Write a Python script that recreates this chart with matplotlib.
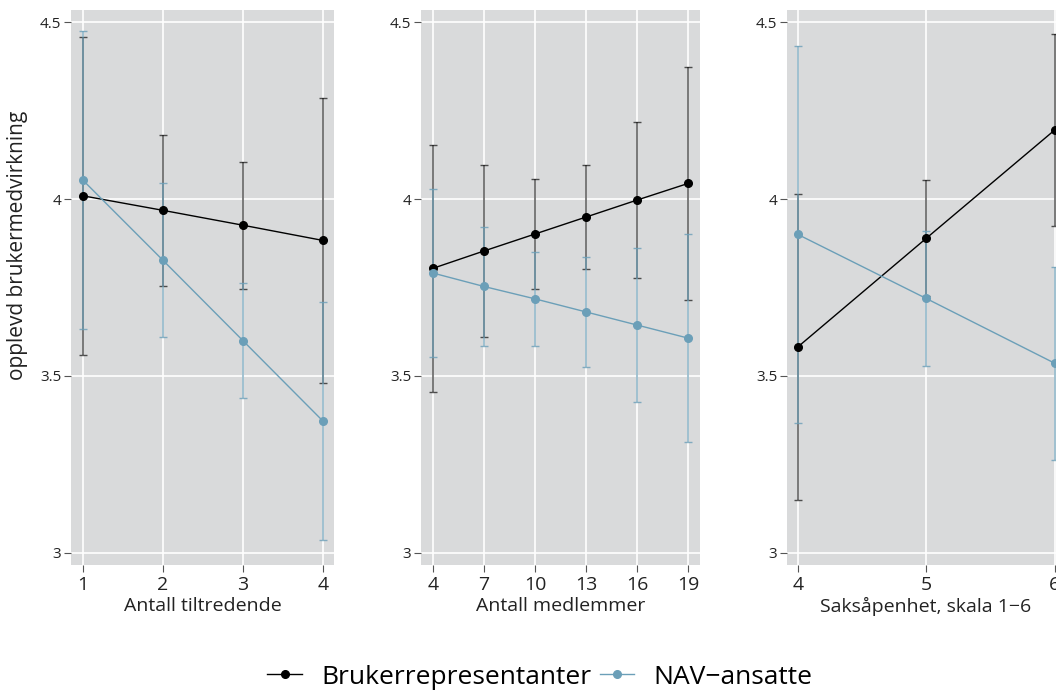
import numpy as np
import matplotlib
matplotlib.use("Agg")
import matplotlib.pyplot as plt
from matplotlib.lines import Line2D

plt.rcParams['font.family'] = ['Open Sans', 'DejaVu Sans']

# data
x_tilt = [1, 2, 3, 4]
bruker_tilt = [4.009, 3.968, 3.926, 3.883]
bruker_tilt_ci = [0.450, 0.213, 0.179, 0.402]
nav_tilt = [4.053, 3.827, 3.600, 3.373]
nav_tilt_ci = [0.421, 0.218, 0.163, 0.337]

x_medl = [4, 7, 10, 13, 16, 19]
bruker_medl = [3.804, 3.853, 3.901, 3.949, 3.997, 4.044]
bruker_medl_ci = [0.350, 0.242, 0.156, 0.147, 0.221, 0.328]
nav_medl = [3.791, 3.753, 3.718, 3.681, 3.644, 3.607]
nav_medl_ci = [0.236, 0.168, 0.132, 0.155, 0.217, 0.294]

x_saks = [4, 5, 6]
bruker_saks = [3.582, 3.889, 4.195]
bruker_saks_ci = [0.432, 0.164, 0.270]
nav_saks = [3.900, 3.719, 3.536]
nav_saks_ci = [0.533, 0.190, 0.272]

xlabels = ["Antall tiltredende", "Antall medlemmer", "Saksåpenhet, skala 1\u22126"]
ylabel = "opplevd brukermedvirkning"
series_names = ["Brukerrepresentanter", "NAV\u2212ansatte"]

BLACK = "#000000"
BLUE = "#6b9fb8"
BG = "#d9dadb"

W, H = 1056, 690
fig = plt.figure(figsize=(W / 100, H / 100), dpi=100)

def box(l, r, t=10, b=565):
    return [l / W, 1 - b / H, (r - l) / W, (b - t) / H]

panels = [
    (box(71, 334), x_tilt, bruker_tilt, bruker_tilt_ci, nav_tilt, nav_tilt_ci, (0.85, 4.14)),
    (box(421, 700), x_medl, bruker_medl, bruker_medl_ci, nav_medl, nav_medl_ci, (3.31, 19.70)),
    (box(787, 1065), x_saks, bruker_saks, bruker_saks_ci, nav_saks, nav_saks_ci, (3.916, 6.08)),
]

for i, (pos, x, b, bci, n, nci, xl) in enumerate(panels):
    ax = fig.add_axes(pos)
    ax.set_facecolor(BG)
    for s in ax.spines.values():
        s.set_visible(False)
    ax.grid(True, color="white", linewidth=1.2)
    ax.set_axisbelow(True)

    ax.errorbar(x, b, yerr=bci, fmt="none", ecolor=BLACK, elinewidth=1.1,
                capsize=3, capthick=1.0, alpha=0.65, zorder=2)
    ax.errorbar(x, n, yerr=nci, fmt="none", ecolor=BLUE, elinewidth=1.1,
                capsize=3, capthick=1.0, alpha=0.8, zorder=3)
    ax.plot(x, b, color=BLACK, lw=1.0, marker="o", ms=5.5, zorder=4)
    ax.plot(x, n, color=BLUE, lw=1.0, marker="o", ms=5.5, zorder=5)

    ax.set_xlim(*xl)
    ax.set_ylim(2.966, 4.534)
    ax.set_xticks(x)
    ax.set_yticks([3, 3.5, 4, 4.5])
    ax.set_yticklabels(["3", "3.5", "4", "4.5"])
    ax.tick_params(axis="y", labelsize=11, length=5, color="#555555",
                   labelcolor="#222222", pad=2)
    ax.tick_params(axis="x", labelsize=14, length=5, color="#555555",
                   labelcolor="#222222", pad=3)
    ax.set_xlabel(xlabels[i], fontsize=14, labelpad=2, color="#222222")

fig.text(18 / W, 1 - 245 / H, ylabel, rotation=90, ha="center", va="center",
         fontsize=15, color="#222222")

handles = [Line2D([], [], color=BLACK, marker="o", ms=5.5, lw=1.0),
           Line2D([], [], color=BLUE, marker="o", ms=5.5, lw=1.0)]
fig.legend(handles, series_names, loc="center", bbox_to_anchor=(540 / W, 1 - 677 / H),
           ncol=2, frameon=False, fontsize=19, handlelength=1.3, handletextpad=0.75,
           columnspacing=0.3, borderpad=0)

fig.savefig("out.png", dpi=100)
